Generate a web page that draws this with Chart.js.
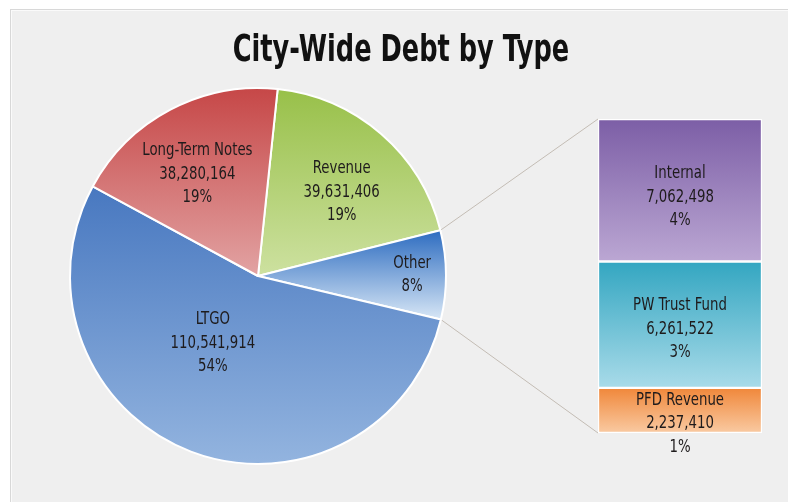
<!DOCTYPE html>
<html>
<head>
<meta charset="utf-8">
<title>City-Wide Debt by Type</title>
<script src="https://cdn.jsdelivr.net/npm/chart.js@4.4.0/dist/chart.umd.min.js"></script>
<style>
    html, body { margin: 0; padding: 0; background: #ffffff; }
    body { width: 788px; height: 502px; position: relative; overflow: hidden; }
    #panel {
        position: absolute; left: 10px; top: 9px; width: 778px; height: 493px;
        background: #efefef; border-top: 1px solid #d8d8d8; border-left: 1px solid #d8d8d8;
        box-shadow: inset 1px 1px 0 #fafafa; box-sizing: border-box;
    }
    #chartTitle {
        position: absolute; left: 0; top: 29px; width: 802px; text-align: center;
        font-family: 'Liberation Sans Narrow', 'DejaVu Sans Condensed', 'Roboto', sans-serif;
        font-weight: bold; font-size: 38px; line-height: 38px; color: #111;
        transform: scaleX(0.75); transform-origin: 401px 0;
    }
    #pieChart { position: absolute; left: 0; top: 0; }
    #barChart { position: absolute; left: 590px; top: 111px; }
</style>
</head>
<body>
<div id="panel"></div>
<canvas id="pieChart" width="788" height="502"></canvas>
<canvas id="barChart" width="180" height="360"></canvas>
<div id="chartTitle">City-Wide Debt by Type</div>

<script>
// Data
const pieNames = ['Revenue', 'Other', 'LTGO', 'Long-Term Notes'];
const pieValues = [39631406, null, 110541914, 38280164];
const pieShares = [19, 8, 54, 19];

const otherNames = ['Internal', 'PW Trust Fund', 'PFD Revenue'];
const otherValues = [7062498, 6261522, 2237410];
const otherShares = [4, 3, 1];

// "Other" slice is the sum of its breakdown
const otherTotal = otherValues.reduce((a, b) => a + b, 0);
pieValues[1] = otherTotal;

const labelFont = "17px 'Liberation Sans Narrow', 'DejaVu Sans Condensed', sans-serif";
const labelColor = '#1e1b1c';
const labelSquash = 0.87; // narrow the text like the condensed face in the original
const lineGap = 23.5;

// gradient colours, top -> bottom
const pieColors = [
    ['#98c049', '#cde1a0'],
    ['#2d6cc0', '#d8e7f6'],
    ['#4878c0', '#93b4df'],
    ['#c64747', '#e2a3a3']
];
const barColors = [
    ['#7c5ea6', '#bba7d3'],
    ['#33a6c1', '#a9dbe9'],
    ['#f0873a', '#f9caa2']
];

// label placement inside slices: fraction of radius, angle shift (deg)
const pieLabelRadius = [0.63, 0.82, 0.43, 0.63];
const pieLabelShift = [4, 0, 13, -3];
const barLabelShift = [7, 4.5, 13.5];

function drawLines(ctx, lines, x, y) {
    ctx.save();
    ctx.translate(x, y);
    ctx.scale(labelSquash, 1);
    ctx.font = labelFont;
    ctx.fillStyle = labelColor;
    ctx.textAlign = 'center';
    ctx.textBaseline = 'middle';
    lines.forEach((t, k) => {
        ctx.fillText(t, 0, (k - (lines.length - 1) / 2) * lineGap);
    });
    ctx.restore();
}

function fmt(v) {
    return v.toLocaleString('en-US');
}

// Stacked bar for the breakdown of "Other"
const barChart = new Chart(document.getElementById('barChart'), {
    type: 'bar',
    data: {
        labels: ['Other'],
        datasets: otherNames.map((name, i) => ({
            label: name,
            data: [otherValues[i]],
            backgroundColor: function(c) {
                const chart = c.chart;
                if (!chart.chartArea || !chart.scales.y) return barColors[i][0];
                let start = 0;
                for (let k = 0; k < i; k++) start += otherValues[k];
                const y0 = chart.scales.y.getPixelForValue(start);
                const y1 = chart.scales.y.getPixelForValue(start + otherValues[i]);
                const g = chart.ctx.createLinearGradient(0, y0, 0, y1);
                g.addColorStop(0, barColors[i][0]);
                g.addColorStop(1, barColors[i][1]);
                return g;
            },
            borderColor: '#ffffff',
            borderWidth: 1.5,
            borderSkipped: false,
            barPercentage: 1,
            categoryPercentage: 1
        }))
    },
    options: {
        responsive: false,
        animation: false,
        layout: { padding: { left: 8, right: 8, top: 8, bottom: 38 } },
        scales: {
            x: { display: false, stacked: true },
            y: { display: false, stacked: true, reverse: true, min: 0, max: otherTotal }
        },
        plugins: {
            legend: { display: false },
            tooltip: { enabled: false }
        }
    },
    plugins: [{
        id: 'barLabels',
        afterDatasetsDraw(chart) {
            chart.data.datasets.forEach((ds, i) => {
                const bar = chart.getDatasetMeta(i).data[0];
                const mid = (bar.y + bar.base) / 2 + barLabelShift[i];
                drawLines(chart.ctx, [otherNames[i], fmt(otherValues[i]), otherShares[i] + '%'], bar.x, mid);
            });
        }
    }]
});

// Pie chart
const pieChart = new Chart(document.getElementById('pieChart'), {
    type: 'pie',
    data: {
        labels: pieNames,
        datasets: [{
            data: pieValues,
            backgroundColor: function(c) {
                const arc = c.chart.getDatasetMeta(0).data[c.dataIndex];
                const col = pieColors[c.dataIndex];
                if (!arc || !arc.outerRadius) return col[0];
                let minY = arc.y, maxY = arc.y;
                for (let k = 0; k <= 32; k++) {
                    const a = arc.startAngle + (arc.endAngle - arc.startAngle) * k / 32;
                    const yy = arc.y + arc.outerRadius * Math.sin(a);
                    minY = Math.min(minY, yy);
                    maxY = Math.max(maxY, yy);
                }
                const g = c.chart.ctx.createLinearGradient(0, minY, 0, maxY);
                g.addColorStop(0, col[0]);
                g.addColorStop(1, col[1]);
                return g;
            },
            borderColor: '#ffffff',
            borderWidth: 2
        }]
    },
    options: {
        responsive: false,
        animation: false,
        rotation: 6,
        layout: { padding: { left: 69, right: 341, top: 87, bottom: 37 } },
        plugins: {
            legend: { display: false },
            tooltip: { enabled: false }
        }
    },
    plugins: [{
        id: 'connectors',
        beforeDatasetsDraw(chart) {
            const arc = chart.getDatasetMeta(0).data[1];
            if (!arc) return;
            const first = barChart.getDatasetMeta(0).data[0];
            const last = barChart.getDatasetMeta(otherNames.length - 1).data[0];
            const offX = barChart.canvas.offsetLeft - chart.canvas.offsetLeft;
            const offY = barChart.canvas.offsetTop - chart.canvas.offsetTop;
            const left = first.x - first.width / 2 + offX;
            const top = Math.min(first.y, first.base) + offY;
            const bottom = Math.max(last.y, last.base) + offY;
            const ctx = chart.ctx;
            ctx.save();
            ctx.strokeStyle = '#c3bcb4';
            ctx.lineWidth = 1;
            ctx.beginPath();
            ctx.moveTo(arc.x + arc.outerRadius * Math.cos(arc.startAngle), arc.y + arc.outerRadius * Math.sin(arc.startAngle));
            ctx.lineTo(left, top);
            ctx.moveTo(arc.x + arc.outerRadius * Math.cos(arc.endAngle), arc.y + arc.outerRadius * Math.sin(arc.endAngle));
            ctx.lineTo(left, bottom);
            ctx.stroke();
            ctx.restore();
        }
    }, {
        id: 'pieLabels',
        afterDatasetsDraw(chart) {
            chart.getDatasetMeta(0).data.forEach((arc, i) => {
                const mid = (arc.startAngle + arc.endAngle) / 2 + pieLabelShift[i] * Math.PI / 180;
                const r = arc.outerRadius * pieLabelRadius[i];
                const x = arc.x + r * Math.cos(mid);
                const y = arc.y + r * Math.sin(mid);
                const lines = i === 1
                    ? [pieNames[i], pieShares[i] + '%']
                    : [pieNames[i], fmt(pieValues[i]), pieShares[i] + '%'];
                drawLines(chart.ctx, lines, x, y);
            });
        }
    }]
});

// second pass so the gradients can follow each slice's geometry
pieChart.update();
</script>
</body>
</html>
